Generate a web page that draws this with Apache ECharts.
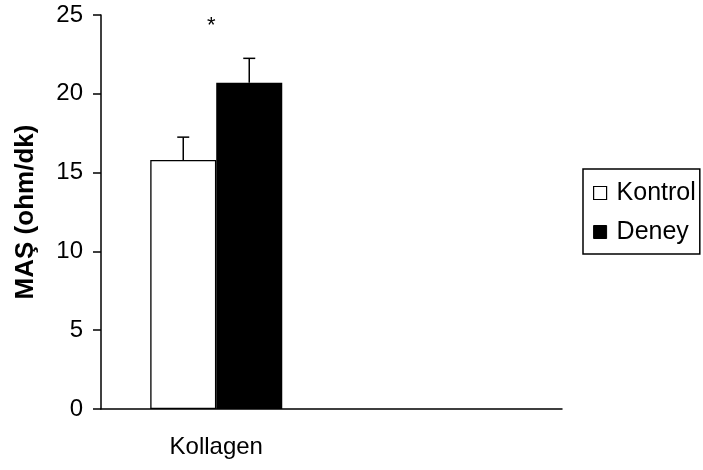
<!DOCTYPE html>
<html>
<head>
<meta charset="utf-8">
<script src="https://cdn.jsdelivr.net/npm/echarts@6/dist/echarts.min.js"></script>
<style>html,body{margin:0;padding:0;background:#fff}#c{width:703px;height:470px}</style>
</head>
<body>
<div id="c"></div>
<script>
const categories = ['Kollagen', ''];
const kontrolValues = [15.8, null];
const deneyValues = [20.7, null];
const kontrolErrors = [1.45, null];
const deneyErrors = [1.55, null];
const significance = ['*', null];
const significanceY = [24.3, null];
const yTicks = [0, 5, 10, 15, 20, 25];

const FONT = 'Liberation Sans, Arial, sans-serif';
const BAR_W = 66;

const chart = echarts.init(document.getElementById('c'), null, {renderer: 'canvas'});

function errorSeries(name, values, errors, offset) {
  const data = [];
  values.forEach((v, i) => { if (v != null) data.push([i, v, v + errors[i]]); });
  return {
    type: 'custom', name: name + '_err', silent: true, z: 5,
    data: data,
    encode: {x: 0, y: [1, 2]},
    renderItem: function (params, api) {
      const base = api.coord([api.value(0), api.value(1)]);
      const top = api.coord([api.value(0), api.value(2)]);
      const x = base[0] + offset;
      return {
        type: 'group',
        children: [
          {type: 'line', shape: {x1: x, y1: base[1], x2: x, y2: top[1]}, style: {stroke: '#000', lineWidth: 1.5}},
          {type: 'line', shape: {x1: x - 6, y1: top[1], x2: x + 6, y2: top[1]}, style: {stroke: '#000', lineWidth: 1.5}}
        ]
      };
    }
  };
}

const sigData = [];
significance.forEach((s, i) => { if (s) sigData.push([i, significanceY[i], s]); });

chart.setOption({
  animation: false,
  backgroundColor: '#fff',
  textStyle: {fontFamily: FONT},
  grid: {left: 101, right: 141, top: 15, bottom: 61, containLabel: false},
  legend: {
    orient: 'vertical', left: 583, top: 169,
    data: [
      {name: 'Kontrol', icon: 'rect', itemStyle: {color: '#fff', borderColor: '#000', borderWidth: 1.2}},
      {name: 'Deney', icon: 'rect', itemStyle: {color: '#000', borderColor: '#000', borderWidth: 1}}
    ],
    itemWidth: 13, itemHeight: 13, itemGap: 13,
    padding: [11, 4, 9, 10],
    borderColor: '#000', borderWidth: 1.5, borderRadius: 0,
    textStyle: {fontFamily: FONT, fontSize: 25, color: '#000', lineHeight: 26, padding: [0, 0, 0, 5]},
    selectedMode: false
  },
  xAxis: {
    type: 'category', data: categories,
    axisLine: {lineStyle: {color: '#000', width: 1.5}},
    axisTick: {show: false},
    axisLabel: {fontFamily: FONT, fontSize: 24, color: '#000', margin: 26},
    splitLine: {show: false}
  },
  yAxis: {
    type: 'value', min: yTicks[0], max: yTicks[yTicks.length - 1], interval: 5,
    name: 'MAŞ (ohm/dk)', nameLocation: 'middle', nameGap: 62, nameRotate: 90,
    nameTextStyle: {fontFamily: FONT, fontSize: 26, fontWeight: 'bold', color: '#000'},
    axisLine: {show: true, lineStyle: {color: '#000', width: 1.5}},
    axisTick: {show: true, length: 8, lineStyle: {color: '#000', width: 1.5}},
    axisLabel: {fontFamily: FONT, fontSize: 24, color: '#000', margin: 18},
    splitLine: {show: false}
  },
  series: [
    {name: 'Kontrol', type: 'bar', data: kontrolValues, barWidth: BAR_W, barGap: '0%',
     itemStyle: {color: '#fff', borderColor: '#000', borderWidth: 1.3}},
    {name: 'Deney', type: 'bar', data: deneyValues, barWidth: BAR_W, barGap: '0%',
     itemStyle: {color: '#000', borderColor: '#000', borderWidth: 1.3}},
    errorSeries('Kontrol', kontrolValues, kontrolErrors, -BAR_W / 2),
    errorSeries('Deney', deneyValues, deneyErrors, BAR_W / 2),
    {
      type: 'custom', name: 'sig', silent: true, data: sigData,
      encode: {x: 0, y: 1},
      renderItem: function (params, api) {
        const p = api.coord([api.value(0), api.value(1)]);
        return {type: 'text', style: {x: p[0] - 5, y: p[1], text: sigData[params.dataIndex][2],
          fill: '#000', font: '22px ' + FONT, align: 'center', verticalAlign: 'middle'}};
      }
    }
  ]
});
</script>
</body>
</html>
